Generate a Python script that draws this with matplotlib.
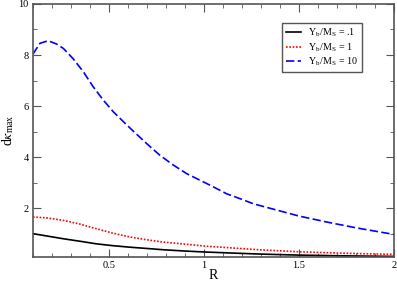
import numpy as np
import matplotlib
matplotlib.use("Agg")
import matplotlib.pyplot as plt
from matplotlib.ticker import MultipleLocator

plt.rcParams['font.family'] = ['Liberation Serif', 'DejaVu Serif']
plt.rcParams['mathtext.fontset'] = 'stix'

# values
r_black = [0.1, 0.26, 0.35, 0.435, 0.52, 0.61, 0.7, 0.786, 0.9, 1.01, 1.15, 1.3, 1.5, 1.75, 2.0]
k_black = [1.01, 0.81, 0.71, 0.61, 0.54, 0.48, 0.43, 0.38, 0.33, 0.29, 0.25, 0.21, 0.17, 0.14, 0.12]

r_red = [0.1, 0.17, 0.26, 0.35, 0.435, 0.52, 0.61, 0.7, 0.786, 0.9, 1.01, 1.15, 1.29, 1.5, 1.75, 2.0]
k_red = [1.66, 1.63, 1.53, 1.38, 1.2, 1.03, 0.88, 0.77, 0.68, 0.6, 0.52, 0.45, 0.38, 0.3, 0.24, 0.2]

r_blue = [0.1, 0.137, 0.18, 0.225, 0.26, 0.31, 0.365, 0.417, 0.47, 0.523, 0.6, 0.698,
          0.768, 0.84, 0.909, 0.98, 1.05, 1.12, 1.19, 1.26, 1.35, 1.5, 1.65, 1.8, 2.0]
k_blue = [8.04, 8.46, 8.56, 8.43, 8.26, 7.87, 7.35, 6.76, 6.24, 5.78, 5.22, 4.54,
          4.08, 3.69, 3.36, 3.1, 2.84, 2.57, 2.38, 2.18, 2.0, 1.7, 1.46, 1.24, 0.98]

labels = [r'Y$_\mathregular{b}$/M$_\mathregular{S}$ = .1',
          r'Y$_\mathregular{b}$/M$_\mathregular{S}$ = 1',
          r'Y$_\mathregular{b}$/M$_\mathregular{S}$ = 10']

fig = plt.figure(figsize=(3.97, 2.82), dpi=100)
ax = fig.add_axes([0.083, 0.089, 0.909, 0.897])

ax.plot(r_black, k_black, color='black', lw=1.2, label=labels[0])
ax.plot(r_red, k_red, color='red', lw=1.2, ls=(0, (1, 1)), label=labels[1])
ax.plot(r_blue, k_blue, color='blue', lw=1.2, ls=(0, (5, 2)), label=labels[2])

ax.set_xlim(0.1, 2)
ax.set_ylim(0.1, 10)
ax.xaxis.set_minor_locator(MultipleLocator(0.1))
ax.yaxis.set_minor_locator(MultipleLocator(1))
ax.set_xticks([0.5, 1, 1.5, 2])
ax.set_xticklabels(['0.5', '1', '1.5', '2'])
ax.set_yticks([2, 4, 6, 8, 10])
ax.tick_params(which='both', direction='in', top=True, right=True, labelsize=7.5, color='#555555')
ax.tick_params(which='major', length=6, pad=3)
ax.tick_params(which='minor', length=3)
for s in ax.spines.values():
    s.set_color('#555555')
    s.set_linewidth(1.2)

ax.set_xlabel('R', fontsize=10)
ax.xaxis.set_label_coords(0.5, -0.048)
ax.set_ylabel(r'd$\kappa_\mathregular{max}$', fontsize=10)
ax.yaxis.set_label_coords(-0.048, 0.5)

leg = ax.legend(loc='upper right', bbox_to_anchor=(0.911, 0.926), borderaxespad=0,
                fontsize=7.2, fancybox=False, edgecolor='#555555', framealpha=1,
                handlelength=1.5, handletextpad=0.7, borderpad=0.4, labelspacing=0.2)
leg.get_frame().set_linewidth(1.0)

fig.savefig('out.png', dpi=100)
